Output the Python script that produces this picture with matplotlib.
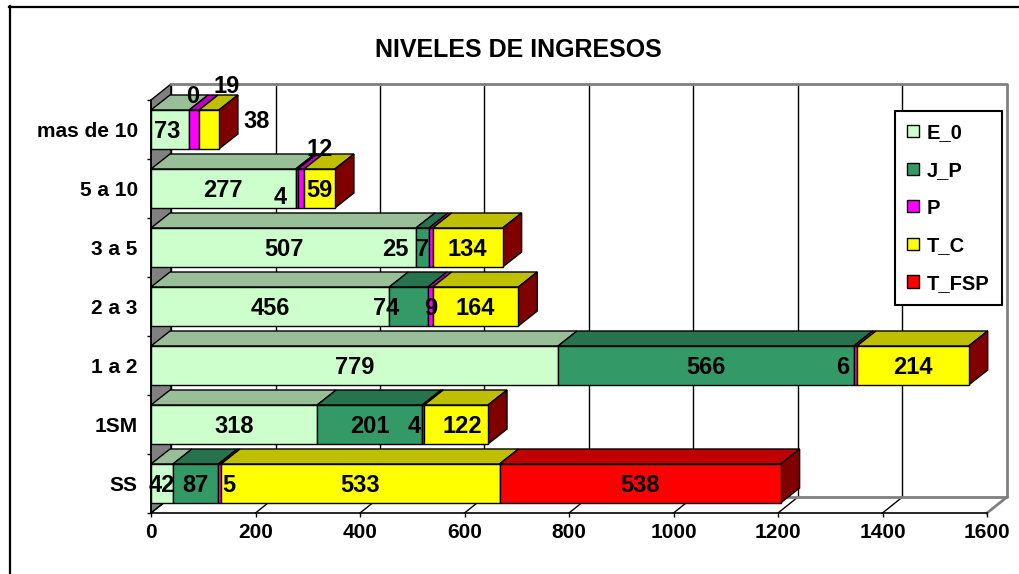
import matplotlib
matplotlib.use('Agg')
import matplotlib.pyplot as plt
from matplotlib.patches import Polygon, Patch
from matplotlib.lines import Line2D
import matplotlib.colors as mcolors
import numpy as np

plt.rcParams['font.family'] = ['Liberation Sans', 'DejaVu Sans']
plt.rcParams['font.weight'] = 'bold'

# ---------------- data ----------------
categories = ['SS', '1SM', '1 a 2', '2 a 3', '3 a 5', '5 a 10', 'mas de 10']
series_names = ['E_0', 'J_P', 'P', 'T_C', 'T_FSP']
E_0 = [42, 318, 779, 456, 507, 277, 73]
J_P = [87, 201, 566, 74, 25, 4, 0]
P = [5, 4, 6, 9, 7, 12, 19]
T_C = [533, 122, 214, 164, 134, 59, 38]
T_FSP = [538, 0, 0, 0, 0, 0, 0]
x_ticks = [0, 200, 400, 600, 800, 1000, 1200, 1400, 1600]
title = 'NIVELES DE INGRESOS'

series = [E_0, J_P, P, T_C, T_FSP]
colors = ['#CCFFCC', '#339966', '#FF00FF', '#FFFF00', '#FF0000']

# label nudges in pixels (dx right, dy down) for crowded segments
label_nudge = {
    (6, 0): (-3, 0), (6, 1): (4, -35), (6, 2): (33, -45), (6, 3): (48, -10),
    (5, 1): (-17, 7), (5, 2): (19, -41),
    (4, 1): (-27, 0), (4, 2): (-8, 0),
    (3, 1): (-22, 0),
    (2, 2): (-13, 0),
    (1, 2): (-9, 0), (1, 3): (6, 0),
    (0, 2): (9, 0),
}

# ---------------- layout ----------------
W, H = 1019, 574
fig = plt.figure(figsize=(W / 100, H / 100), dpi=100)
fig.patch.set_facecolor('white')

x0p, x1p, ybp, ytp = 151, 987, 513, 100
ax = fig.add_axes([x0p / W, (H - ybp) / H, (x1p - x0p) / W, (ybp - ytp) / H])
ax.set_xlim(0, 1600)
ax.set_ylim(-0.5, 6.5)
ax.set_facecolor('none')

sx = (x1p - x0p) / 1600.0      # px per unit
sy = (ybp - ytp) / 7.0         # px per category
DXW, DYW = 20 / sx, 16 / sy    # wall depth in data units
DXB, DYB = 19 / sx, 15 / sy    # bar depth
HALF = 0.5 * 39 / sy           # bar half height

def shade(c, f):
    r, g, b = mcolors.to_rgb(c)
    return (r * f, g * f, b * f)

# ---------------- walls ----------------
gray = '#808080'
ax.add_patch(Polygon([(0, -0.5), (0, 6.5), (DXW, 6.5 + DYW), (DXW, -0.5 + DYW)],
                     closed=True, facecolor=gray, edgecolor='black', lw=1,
                     clip_on=False, zorder=0.5))
for v in x_ticks[:-1]:
    ax.plot([v + DXW, v + DXW], [-0.5 + DYW, 6.5 + DYW], color='black', lw=1,
            clip_on=False, zorder=0.6)
    ax.plot([v, v + DXW], [-0.5, -0.5 + DYW], color='black', lw=1,
            clip_on=False, zorder=0.6)
ax.plot([DXW, 1600 + DXW, 1600 + DXW, DXW],
        [6.5 + DYW, 6.5 + DYW, -0.5 + DYW, -0.5 + DYW],
        color=gray, lw=2, clip_on=False, zorder=0.6)
ax.plot([1600, 1600 + DXW], [-0.5, -0.5 + DYW], color=gray, lw=2,
        clip_on=False, zorder=0.6)

# ---------------- bars ----------------
for ci in range(len(categories)):
    left = 0.0
    yb, yt = ci - HALF, ci + HALF
    for si, vals in enumerate(series):
        v = vals[ci]
        right = left + v
        col = colors[si]
        if v > 0:
            ax.add_patch(Polygon([(left, yt), (right, yt), (right + DXB, yt + DYB),
                                  (left + DXB, yt + DYB)], closed=True,
                                 facecolor=shade(col, 0.75), edgecolor='black',
                                 lw=1, clip_on=False, zorder=3))
            ax.add_patch(Polygon([(left, yb), (right, yb), (right, yt), (left, yt)],
                                 closed=True, facecolor=col, edgecolor='black',
                                 lw=1, clip_on=False, zorder=3.2))
        if v > 0 or si < 4:
            dx, dy = label_nudge.get((ci, si), (0, 0))
            ax.annotate(str(v), xy=((left + right) / 2, ci), xytext=(dx, -dy - 2),
                        textcoords='offset pixels', ha='center', va='center',
                        fontsize=17, fontweight='bold', color='black',
                        annotation_clip=False, zorder=5)
        left = right
    # end side face (coloured by the last series)
    ax.add_patch(Polygon([(left, yb), (left, yt), (left + DXB, yt + DYB),
                          (left + DXB, yb + DYB)], closed=True,
                         facecolor=shade(colors[-1], 0.5), edgecolor='black',
                         lw=1, clip_on=False, zorder=3.1))

# ---------------- axes ----------------
for s in ['top', 'right']:
    ax.spines[s].set_visible(False)
for s in ['left', 'bottom']:
    ax.spines[s].set_color('black')
    ax.spines[s].set_linewidth(1.2)
ax.set_xticks(x_ticks)
ax.set_xticklabels([str(t) for t in x_ticks], fontsize=15, fontweight='bold')
ax.tick_params(axis='x', length=3, width=1, pad=4, colors='black')
ax.set_yticks(np.arange(-0.5, 7.0, 1.0))
ax.set_yticklabels([])
ax.tick_params(axis='y', which='major', length=3, width=1)
ax.set_yticks(np.arange(len(categories)), minor=True)
ax.set_yticklabels(categories, minor=True, fontsize=15, fontweight='bold')
ax.tick_params(axis='y', which='minor', length=0, pad=9.5)

# ---------------- title, legend, frame ----------------
fig.text(518 / W, 1 - 50 / H, title, ha='center', va='center',
         fontsize=18, fontweight='bold')

handles = [Patch(facecolor=c, edgecolor='black', lw=1) for c in colors]
leg = fig.legend(handles, series_names, loc='upper left',
                 bbox_to_anchor=(895 / W, 1 - 111 / H), frameon=True,
                 fancybox=False, framealpha=1, edgecolor='black',
                 prop={'size': 14.5, 'weight': 'bold'}, handlelength=0.55,
                 handleheight=0.55, handletextpad=0.4, labelspacing=0.92,
                 borderpad=0.62, borderaxespad=0)
leg.get_frame().set_linewidth(1.5)

fig.add_artist(Line2D([9 / W, 1], [1 - 6.5 / H, 1 - 6.5 / H], color='black',
                      lw=1.6, transform=fig.transFigure))
fig.add_artist(Line2D([9.5 / W, 9.5 / W], [0, 1 - 6 / H], color='black',
                      lw=1.6, transform=fig.transFigure))

fig.savefig('out.png', dpi=100)
